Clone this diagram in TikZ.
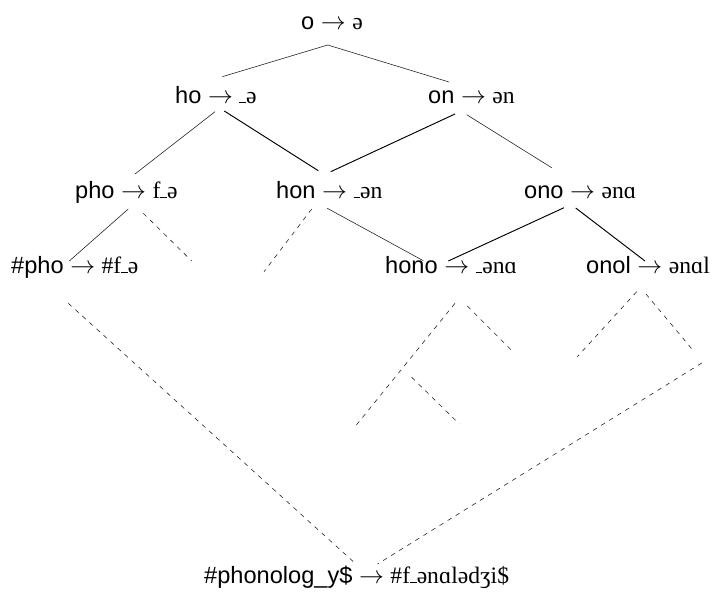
\documentclass[tikz,border=0pt]{standalone}
\usepackage{fontspec}
\setmainfont{Liberation Sans}
\newfontfamily\ipa{Liberation Serif}
\newcommand\rarr{$\rightarrow$}
\newcommand\blnk{\rule{0.28em}{0.05em}}
\begin{document}
\begin{tikzpicture}[x=1pt,y=-1pt,
  lbl/.style={inner sep=0pt, anchor=base west, font=\fontsize{23.6}{28}\selectfont},
  thin/.style={line width=0.6pt, draw=black!85},
  thick/.style={line width=0.95pt, draw=black},
  dsh/.style={line width=0.6pt, draw=black!85, dash pattern=on 4.5pt off 5pt}]
\useasboundingbox (0,0) rectangle (713,597);
% nodes
\node[lbl] (root) at (301,30) {o \rarr{} {\ipa ə}};
\node[lbl] (ho) at (175,103) {ho \rarr{} {\ipa\blnk ə}};
\node[lbl] (on) at (428,103) {on \rarr{} {\ipa ən}};
\node[lbl] (pho) at (75,198) {pho \rarr{} {\ipa f\blnk ə}};
\node[lbl] (hon) at (276,198) {hon \rarr{} {\ipa\blnk ən}};
\node[lbl] (ono) at (524,198) {ono \rarr{} {\ipa ənɑ}};
\node[lbl] (hpho) at (11,273) {\#pho \rarr{} {\ipa \#f\blnk ə}};
\node[lbl] (hono) at (385,273) {hono \rarr{} {\ipa\blnk ənɑ}};
\node[lbl] (onol) at (586,273) {onol \rarr{} {\ipa ənɑl}};
\node[lbl] (word) at (204,583) {\#phonolog\_y\$ \rarr{} {\ipa \#f\blnk ənɑlədʒi\$}};
% connector end points
\coordinate (root-b) at (327.7,45);
\coordinate (ho-t) at (222.3,76.7);
\coordinate (on-t) at (449,82);
\coordinate (ho-bl) at (215,111.7);
\coordinate (ho-br) at (224.3,111);
\coordinate (pho-t) at (135,174);
\coordinate (hon-tl) at (318.3,170.7);
\coordinate (on-bl) at (455,114);
\coordinate (on-br) at (466.7,114.7);
\coordinate (hon-tr) at (330.7,171.7);
\coordinate (ono-t) at (551.7,167.7);
\coordinate (pho-bl) at (128.3,209);
\coordinate (pho-br) at (143.3,213.3);
\coordinate (hpho-t) at (69.3,261);
\coordinate (pho-x) at (191.7,261);
\coordinate (hon-bl) at (311.7,209);
\coordinate (hon-br) at (327.3,208.3);
\coordinate (hon-x) at (264,271.7);
\coordinate (hono-tl) at (423.3,260.7);
\coordinate (ono-bl) at (564,207.7);
\coordinate (ono-br) at (575.7,208);
\coordinate (hono-tr) at (448.3,261);
\coordinate (onol-t) at (645,261);
\coordinate (hono-bl) at (455,303.3);
\coordinate (hono-br) at (467.3,306);
\coordinate (hono-x1) at (355,426.7);
\coordinate (hono-x2) at (514,352.7);
\coordinate (br-a) at (411.7,377.3);
\coordinate (br-b) at (459.3,424);
\coordinate (onol-bl) at (636.7,291.7);
\coordinate (onol-br) at (646,294);
\coordinate (onol-x1) at (577.3,356.7);
\coordinate (onol-x2) at (693.3,350.7);
\coordinate (hpho-b) at (68.3,303.3);
\coordinate (word-tl) at (354.5,562.7);
\coordinate (onol-far) at (701.8,363);
\coordinate (word-tr) at (377.6,564);
% solid connectors
\draw[thin] (root-b) -- (ho-t);
\draw[thin] (root-b) -- (on-t);
\draw[thin] (ho-bl) -- (pho-t);
\draw[thick] (ho-br) -- (hon-tl);
\draw[thick] (on-bl) -- (hon-tr);
\draw[thin] (on-br) -- (ono-t);
\draw[thin] (pho-bl) -- (hpho-t);
\draw[thin] (hon-br) -- (hono-tl);
\draw[thick] (ono-bl) -- (hono-tr);
\draw[thick] (ono-br) -- (onol-t);
% dashed connectors
\draw[dsh] (pho-br) -- (pho-x);
\draw[dsh] (hon-bl) -- (hon-x);
\draw[dsh] (hono-bl) -- (hono-x1);
\draw[dsh] (hono-br) -- (hono-x2);
\draw[dsh] (br-a) -- (br-b);
\draw[dsh] (onol-bl) -- (onol-x1);
\draw[dsh] (onol-br) -- (onol-x2);
\draw[dsh] (hpho-b) -- (word-tl);
\draw[dsh] (onol-far) -- (word-tr);
\end{tikzpicture}
\end{document}
